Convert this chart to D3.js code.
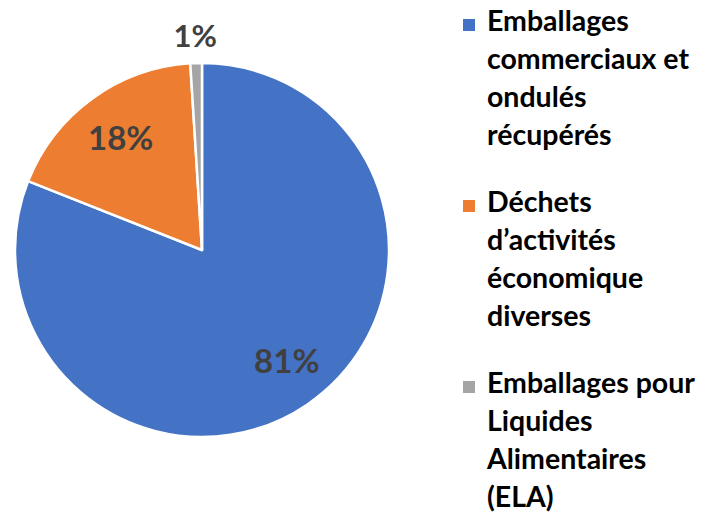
<!DOCTYPE html>
<html>
<head>
<meta charset="utf-8">
<script src="https://cdn.jsdelivr.net/npm/d3@7"></script>
<style>
  body { margin: 0; background: #fff; }
  text { font-family: Lato, "Open Sans", sans-serif; font-weight: 700; }
</style>
</head>
<body>
<svg id="chart" width="714" height="512"></svg>
<script>
const categories = [
  "Emballages commerciaux et ondulés récupérés",
  "Déchets d’activités économique diverses",
  "Emballages pour Liquides Alimentaires (ELA)"
];
const values = [81, 18, 1];
const labels = ["81%", "18%", "1%"];
const legendLines = [
  ["Emballages", "commerciaux et", "ondulés", "récupérés"],
  ["Déchets", "d’activités", "économique", "diverses"],
  ["Emballages pour", "Liquides", "Alimentaires", "(ELA)"]
];
const colors = ["#4472c4", "#ed7d31", "#a5a5a5"];

const svg = d3.select("#chart");
const cx = 202, cy = 250, radius = 187;

const pie = d3.pie().sort(null).value(d => d);
const arcs = pie(values);
const arc = d3.arc().innerRadius(0).outerRadius(radius);
const labelArc = d3.arc().innerRadius(radius * 0.74).outerRadius(radius * 0.74);
const outerArc = d3.arc().innerRadius(radius + 27).outerRadius(radius + 27);

const g = svg.append("g").attr("transform", `translate(${cx},${cy})`);

g.selectAll("path")
  .data(arcs)
  .enter()
  .append("path")
  .attr("d", arc)
  .attr("fill", (d, i) => colors[i])
  .attr("stroke", "#fff")
  .attr("stroke-width", 2.5)
  .attr("stroke-linejoin", "round");

g.selectAll("text.lbl")
  .data(arcs)
  .enter()
  .append("text")
  .attr("class", "lbl")
  .attr("transform", function(d, i) {
    let p = i === 2 ? outerArc.centroid(d) : labelArc.centroid(d);
    if (i === 0) p = [p[0] + 7, p[1] - 3];
    return `translate(${p[0]},${p[1]})`;
  })
  .attr("text-anchor", "middle")
  .attr("dy", "0.35em")
  .attr("fill", "#404040")
  .style("font-size", (d, i) => i === 2 ? "31px" : "33px")
  .text((d, i) => labels[i]);

// legend
const legendTop = [31, 212, 393];
const lineH = 38;
const legend = svg.append("g");

legendLines.forEach(function(lines, i) {
  const item = legend.append("g");
  item.append("rect")
    .attr("x", 463)
    .attr("y", legendTop[i] - 12)
    .attr("width", 12)
    .attr("height", 12)
    .attr("fill", colors[i]);
  item.append("text")
    .attr("x", 487)
    .attr("y", legendTop[i])
    .attr("fill", "#000")
    .style("font-size", "28.5px")
    .selectAll("tspan")
    .data(lines)
    .enter()
    .append("tspan")
    .attr("x", 487)
    .attr("dy", (d, j) => j === 0 ? 0 : lineH)
    .text(d => d);
});
</script>
</body>
</html>
